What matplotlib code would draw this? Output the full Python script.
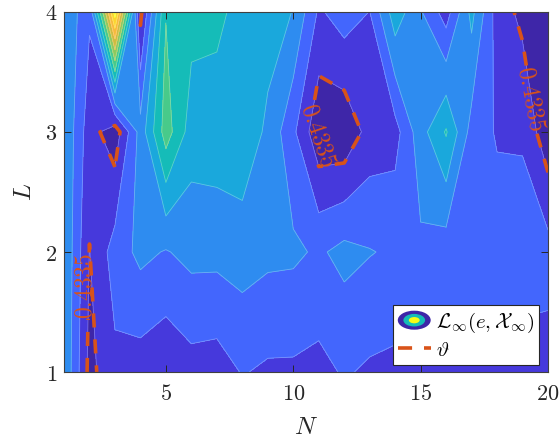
import numpy as np
import matplotlib
matplotlib.use('Agg')
import matplotlib.pyplot as plt
from matplotlib.legend_handler import HandlerBase
from matplotlib.patches import Ellipse, Patch
from matplotlib.lines import Line2D

plt.rcParams['mathtext.fontset'] = 'cm'
plt.rcParams['font.family'] = 'serif'
plt.rcParams['font.serif'] = ['DejaVu Serif']

N = list(range(1, 21))
L = [1, 2, 3, 4]
# surface values, in units of contour level index (level 1 is the 0.4335 contour)
row_L1 = [3.9, 0.7, 1.75, 1.5, 1.2, 1.6, 1.5, 2.06, 1.84, 1.83, 1.7, 2.1, 1.85, 1.75, 1.6, 1.6, 1.6, 1.6, 1.5, 1.6]
row_L2 = [3.95, 0.97, 2.46, 3.26, 2.93, 3.3, 3.3, 3.48, 3.24, 3.19, 2.85, 3.3, 3.05, 2.85, 2.8, 2.45, 2.6, 2.5, 2.6, 2.38]
row_L3 = [3.95, 1.42, 0.4, 3.4, 6.5, 4.5, 4.6, 4.69, 3.8, 2.2, 0.25, 0.2, 1.38, 1.6, 3.6, 5.1, 2.6, 1.9, 1.85, 0.3]
row_L4 = [3.95, 2.14, 11.5, 0.7, 5.95, 5.36, 5.2, 4.7, 4.4, 3.97, 1.85, 2.5, 1.98, 4.6, 3.1, 1.52, 4.3, 1.55, 0.73, 0.5]
fill_levels = [-1, 1, 2, 3, 4, 5, 6, 7, 8, 9, 10, 11, 12]
band_colors = ['#3e26a8', '#4639dc', '#4366fd', '#2e8cf0', '#1aa8dc', '#15bcb8',
               '#48ca8a', '#8ec95e', '#cfbc40', '#f7ba3c', '#fcd52e', '#f9fb15']
theta_level = [1]
theta_label = {1: r'$0.4335$'}
label_cut_N = [1.95, 10.7, 19.33]
label_cut_L = [1.72, 3.0, 3.28]
label_N = [1.82, 10.97, 19.33]
label_L = [1.72, 2.975, 3.28]
label_rot = [90, -71, -79]
orange = '#d95319'
dash = (0, (3.9, 3.3))

fig = plt.figure(figsize=(5.6, 4.4), dpi=100)
ax = fig.add_axes([64/560, 68/440, 484/560, 360/440])
Z = np.array([row_L1, row_L2, row_L3, row_L4])
ax.contourf(N, L, Z, levels=fill_levels, colors=band_colors)
ax.contour(N, L, Z, levels=fill_levels[1:-1], colors='white', linewidths=0.6, alpha=0.3)
cs = ax.contour(N, L, Z, levels=theta_level, colors=orange, linewidths=2.6, linestyles=[dash])
labels = ax.clabel(cs, fmt=theta_label, manual=list(zip(label_cut_N, label_cut_L)), fontsize=17,
                   inline=True, inline_spacing=0)
for t, xv, yv, r in zip(labels, label_N, label_L, label_rot):
    t.set_position((xv, yv))
    t.set_rotation(r)

ax.set_xlim(1, 20)
ax.set_ylim(1, 4)
ax.set_xticks([5, 10, 15, 20])
ax.set_yticks([1, 2, 3, 4])
ax.set_xticklabels(['$5$', '$10$', '$15$', '$20$'])
ax.set_yticklabels(['$1$', '$2$', '$3$', '$4$'])
ax.tick_params(direction='in', top=True, right=True, length=5, width=0.7, labelsize=16,
               color='#262626', labelcolor='#262626')
ax.tick_params(axis='x', pad=8)
ax.tick_params(axis='y', pad=5)
for s in ax.spines.values():
    s.set_linewidth(0.8)
    s.set_color('#404040')
ax.set_xlabel('$N$', fontsize=18, color='#262626', labelpad=7.5)
ax.set_ylabel('$L$', fontsize=18, color='#262626', labelpad=6.5)


class RingHandler(HandlerBase):
    def create_artists(self, legend, orig, x, y, w, h, fontsize, trans):
        cx, cy = x + w/2, y + h/2
        out = []
        for scale, c in zip((1.0, 0.66, 0.33), ('#3e26a8', '#15bcb8', '#f9fb15')):
            out.append(Ellipse((cx, cy), w*scale, 13.7*scale, facecolor=c, edgecolor='none', transform=trans))
        return out


handles = [Patch(), Line2D([], [], color=orange, lw=2.6, linestyle=dash)]
leg = ax.legend(handles, [r'$\mathcal{L}_{\infty}(e,\mathcal{X}_{\infty})$', r'$\vartheta$'],
                handler_map={Patch: RingHandler()}, loc='lower right',
                bbox_to_anchor=(475/484, 7/360), fontsize=15, frameon=True, fancybox=False,
                framealpha=1, edgecolor='#262626', handlelength=1.58, handletextpad=0.24,
                borderpad=0.25, borderaxespad=0, labelspacing=0.3)
leg.get_frame().set_linewidth(0.8)
fig.savefig('out.png', dpi=100)
